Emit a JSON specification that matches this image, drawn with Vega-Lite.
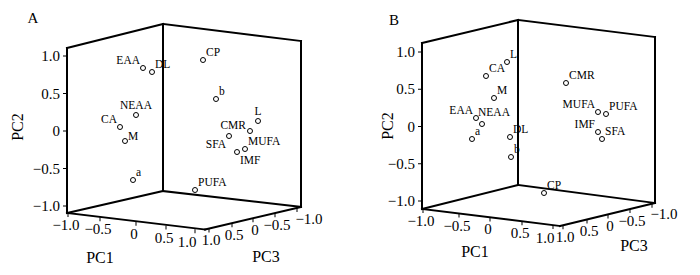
{
  "$schema": "https://vega.github.io/schema/vega-lite/v6.json",
  "autosize": {"type": "fit", "contains": "padding"},
  "width": 700,
  "height": 275,
  "padding": 0,
  "background": "white",
  "config": {"view": {"stroke": null}},
  "datasets": {
    "edges": [
      {"panel": "A", "h": 67, "v": 48, "h2": 163, "v2": 24},
      {"panel": "A", "h": 163, "v": 24, "h2": 301, "v2": 41},
      {"panel": "A", "h": 67, "v": 48, "h2": 67, "v2": 213},
      {"panel": "A", "h": 163, "v": 24, "h2": 163, "v2": 191},
      {"panel": "A", "h": 301, "v": 41, "h2": 301, "v2": 207},
      {"panel": "A", "h": 163, "v": 191, "h2": 67, "v2": 213},
      {"panel": "A", "h": 163, "v": 191, "h2": 301, "v2": 207},
      {"panel": "A", "h": 67, "v": 213, "h2": 205, "v2": 229.5},
      {"panel": "A", "h": 205, "v": 229.5, "h2": 301, "v2": 207},
      {"panel": "B", "h": 422, "v": 43, "h2": 518, "v2": 20},
      {"panel": "B", "h": 518, "v": 20, "h2": 655, "v2": 37},
      {"panel": "B", "h": 422, "v": 43, "h2": 422, "v2": 209},
      {"panel": "B", "h": 518, "v": 20, "h2": 518, "v2": 185},
      {"panel": "B", "h": 655, "v": 37, "h2": 655, "v2": 203},
      {"panel": "B", "h": 518, "v": 185, "h2": 422, "v2": 209},
      {"panel": "B", "h": 518, "v": 185, "h2": 655, "v2": 203},
      {"panel": "B", "h": 422, "v": 209, "h2": 560, "v2": 226},
      {"panel": "B", "h": 560, "v": 226, "h2": 655, "v2": 203}
    ],
    "pts": [
      {"panel": "A", "name": "CP", "h": 203, "v": 60, "pos": "ne"},
      {"panel": "A", "name": "EAA", "h": 143, "v": 68, "pos": "nw"},
      {"panel": "A", "name": "DL", "h": 152, "v": 72, "pos": "ne"},
      {"panel": "A", "name": "b", "h": 216, "v": 99, "pos": "ne"},
      {"panel": "A", "name": "NEAA", "h": 136, "v": 115, "pos": "n"},
      {"panel": "A", "name": "CA", "h": 120, "v": 127, "pos": "nw"},
      {"panel": "A", "name": "M", "h": 125, "v": 141, "pos": "e"},
      {"panel": "A", "name": "a", "h": 133, "v": 180, "pos": "ne"},
      {"panel": "A", "name": "L", "h": 258, "v": 121, "pos": "n"},
      {"panel": "A", "name": "CMR", "h": 250, "v": 131, "pos": "w"},
      {"panel": "A", "name": "SFA", "h": 229, "v": 136, "pos": "sw"},
      {"panel": "A", "name": "IMF", "h": 237, "v": 152, "pos": "se"},
      {"panel": "A", "name": "MUFA", "h": 245, "v": 149, "pos": "ne"},
      {"panel": "A", "name": "PUFA", "h": 195, "v": 190, "pos": "ne"},
      {"panel": "B", "name": "L", "h": 507, "v": 62, "pos": "ne"},
      {"panel": "B", "name": "CA", "h": 486, "v": 76, "pos": "ne"},
      {"panel": "B", "name": "CMR", "h": 566, "v": 83, "pos": "ne"},
      {"panel": "B", "name": "M", "h": 494, "v": 98, "pos": "ne"},
      {"panel": "B", "name": "MUFA", "h": 598, "v": 112, "pos": "nw"},
      {"panel": "B", "name": "PUFA", "h": 606, "v": 114, "pos": "ne"},
      {"panel": "B", "name": "EAA", "h": 476, "v": 118, "pos": "nw"},
      {"panel": "B", "name": "NEAA", "h": 482, "v": 124, "pos": "nne"},
      {"panel": "B", "name": "IMF", "h": 598, "v": 132, "pos": "nw"},
      {"panel": "B", "name": "SFA", "h": 602, "v": 139, "pos": "ne"},
      {"panel": "B", "name": "DL", "h": 510, "v": 137, "pos": "ne"},
      {"panel": "B", "name": "a", "h": 472, "v": 139, "pos": "ne"},
      {"panel": "B", "name": "b", "h": 511, "v": 157, "pos": "ne"},
      {"panel": "B", "name": "CP", "h": 544, "v": 193, "pos": "ne"}
    ],
    "yt": [
      {"panel": "A", "label": "1.0", "h": 65, "v": 56},
      {"panel": "A", "label": "0.5", "h": 65, "v": 93.5},
      {"panel": "A", "label": "0", "h": 65, "v": 131},
      {"panel": "A", "label": "−0.5", "h": 65, "v": 168.5},
      {"panel": "A", "label": "−1.0", "h": 65, "v": 206},
      {"panel": "B", "label": "1.0", "h": 420, "v": 52},
      {"panel": "B", "label": "0.5", "h": 420, "v": 89.25},
      {"panel": "B", "label": "0", "h": 420, "v": 126.5},
      {"panel": "B", "label": "−0.5", "h": 420, "v": 163.75},
      {"panel": "B", "label": "−1.0", "h": 420, "v": 201}
    ],
    "ft": [
      {"panel": "A", "axis": "PC1", "label": "−1.0", "h": 68, "v": 213.1},
      {"panel": "A", "axis": "PC1", "label": "−0.5", "h": 100, "v": 217.2},
      {"panel": "A", "axis": "PC1", "label": "0", "h": 136, "v": 221.8},
      {"panel": "A", "axis": "PC1", "label": "0.5", "h": 166, "v": 225.6},
      {"panel": "A", "axis": "PC1", "label": "1.0", "h": 195, "v": 229.3},
      {"panel": "A", "axis": "PC3", "label": "1.0", "h": 209, "v": 228.6},
      {"panel": "A", "axis": "PC3", "label": "0.5", "h": 232, "v": 223.2},
      {"panel": "A", "axis": "PC3", "label": "0", "h": 253, "v": 218.3},
      {"panel": "A", "axis": "PC3", "label": "−0.5", "h": 275, "v": 213.2},
      {"panel": "A", "axis": "PC3", "label": "−1.0", "h": 297, "v": 208.0},
      {"panel": "B", "axis": "PC1", "label": "−1.0", "h": 423, "v": 209.1},
      {"panel": "B", "axis": "PC1", "label": "−0.5", "h": 459, "v": 213.5},
      {"panel": "B", "axis": "PC1", "label": "0", "h": 490, "v": 217.4},
      {"panel": "B", "axis": "PC1", "label": "0.5", "h": 522, "v": 221.3},
      {"panel": "B", "axis": "PC1", "label": "1.0", "h": 553, "v": 225.1},
      {"panel": "B", "axis": "PC3", "label": "1.0", "h": 563, "v": 225.3},
      {"panel": "B", "axis": "PC3", "label": "0.5", "h": 587, "v": 219.5},
      {"panel": "B", "axis": "PC3", "label": "0", "h": 608, "v": 214.4},
      {"panel": "B", "axis": "PC3", "label": "−0.5", "h": 630, "v": 209.1},
      {"panel": "B", "axis": "PC3", "label": "−1.0", "h": 652, "v": 203.7}
    ],
    "tt": [
      {"kind": "axis", "text": "PC1", "h": 100, "v": 258},
      {"kind": "axis", "text": "PC3", "h": 266, "v": 257},
      {"kind": "axis", "text": "PC1", "h": 475, "v": 252},
      {"kind": "axis", "text": "PC3", "h": 634, "v": 246},
      {"kind": "rot", "text": "PC2", "h": 18, "v": 127},
      {"kind": "rot", "text": "PC2", "h": 388, "v": 126},
      {"kind": "panel", "text": "A", "h": 33, "v": 18},
      {"kind": "panel", "text": "B", "h": 394, "v": 20}
    ]
  },
  "encoding": {
    "x": {"field": "h", "type": "quantitative", "scale": {"domain": [0, 700], "nice": false, "zero": false}, "axis": null},
    "y": {"field": "v", "type": "quantitative", "scale": {"domain": [0, 275], "nice": false, "zero": false, "reverse": true}, "axis": null}
  },
  "layer": [
    {
      "data": {"name": "edges"},
      "mark": {"type": "rule", "color": "black", "strokeWidth": 2, "strokeCap": "square"},
      "encoding": {"x2": {"field": "h2"}, "y2": {"field": "v2"}}
    },
    {
      "data": {"name": "yt"},
      "mark": {"type": "tick", "orient": "horizontal", "size": 4, "thickness": 1, "color": "black", "opacity": 1}
    },
    {
      "data": {"name": "yt"},
      "mark": {"type": "text", "align": "right", "baseline": "middle", "dx": -5, "font": "Liberation Serif", "fontSize": 15, "color": "black"},
      "encoding": {"text": {"field": "label"}}
    },
    {
      "data": {"name": "ft"},
      "mark": {"type": "tick", "orient": "vertical", "size": 4, "thickness": 1, "yOffset": 2, "color": "black", "opacity": 1}
    },
    {
      "data": {"name": "ft"},
      "transform": [{"filter": "datum.axis === 'PC1' && datum.label !== '1.0'"}],
      "mark": {"type": "text", "align": "center", "baseline": "middle", "dx": -2, "dy": 12, "font": "Liberation Serif", "fontSize": 15, "color": "black"},
      "encoding": {"text": {"field": "label"}}
    },
    {
      "data": {"name": "ft"},
      "transform": [{"filter": "datum.axis === 'PC1' && datum.label === '1.0'"}],
      "mark": {"type": "text", "align": "center", "baseline": "middle", "dx": -8, "dy": 12.5, "font": "Liberation Serif", "fontSize": 15, "color": "black"},
      "encoding": {"text": {"field": "label"}}
    },
    {
      "data": {"name": "ft"},
      "transform": [{"filter": "datum.axis === 'PC3' && datum.label !== '−1.0'"}],
      "mark": {"type": "text", "align": "center", "baseline": "middle", "dx": 2, "dy": 11.5, "font": "Liberation Serif", "fontSize": 15, "color": "black"},
      "encoding": {"text": {"field": "label"}}
    },
    {
      "data": {"name": "ft"},
      "transform": [{"filter": "datum.axis === 'PC3' && datum.label === '−1.0'"}],
      "mark": {"type": "text", "align": "center", "baseline": "middle", "dx": 12, "dy": 10.5, "font": "Liberation Serif", "fontSize": 15, "color": "black"},
      "encoding": {"text": {"field": "label"}}
    },
    {
      "data": {"name": "pts"},
      "mark": {"type": "point", "shape": "circle", "filled": false, "stroke": "black", "strokeWidth": 1, "size": 25, "opacity": 1}
    },
    {
      "data": {"name": "pts"},
      "transform": [{"filter": "datum.pos === 'ne'"}],
      "mark": {"type": "text", "align": "left", "baseline": "middle", "dx": 3, "dy": -7, "font": "Liberation Serif", "fontSize": 11.5, "color": "black"},
      "encoding": {"text": {"field": "name"}}
    },
    {
      "data": {"name": "pts"},
      "transform": [{"filter": "datum.pos === 'nw'"}],
      "mark": {"type": "text", "align": "right", "baseline": "middle", "dx": -3, "dy": -7, "font": "Liberation Serif", "fontSize": 11.5, "color": "black"},
      "encoding": {"text": {"field": "name"}}
    },
    {
      "data": {"name": "pts"},
      "transform": [{"filter": "datum.pos === 'n'"}],
      "mark": {"type": "text", "align": "center", "baseline": "middle", "dx": 0, "dy": -9, "font": "Liberation Serif", "fontSize": 11.5, "color": "black"},
      "encoding": {"text": {"field": "name"}}
    },
    {
      "data": {"name": "pts"},
      "transform": [{"filter": "datum.pos === 'nne'"}],
      "mark": {"type": "text", "align": "left", "baseline": "middle", "dx": -4, "dy": -11, "font": "Liberation Serif", "fontSize": 11.5, "color": "black"},
      "encoding": {"text": {"field": "name"}}
    },
    {
      "data": {"name": "pts"},
      "transform": [{"filter": "datum.pos === 'e'"}],
      "mark": {"type": "text", "align": "left", "baseline": "middle", "dx": 3, "dy": -4, "font": "Liberation Serif", "fontSize": 11.5, "color": "black"},
      "encoding": {"text": {"field": "name"}}
    },
    {
      "data": {"name": "pts"},
      "transform": [{"filter": "datum.pos === 'w'"}],
      "mark": {"type": "text", "align": "right", "baseline": "middle", "dx": -4, "dy": -5, "font": "Liberation Serif", "fontSize": 11.5, "color": "black"},
      "encoding": {"text": {"field": "name"}}
    },
    {
      "data": {"name": "pts"},
      "transform": [{"filter": "datum.pos === 'sw'"}],
      "mark": {"type": "text", "align": "right", "baseline": "middle", "dx": -3, "dy": 9, "font": "Liberation Serif", "fontSize": 11.5, "color": "black"},
      "encoding": {"text": {"field": "name"}}
    },
    {
      "data": {"name": "pts"},
      "transform": [{"filter": "datum.pos === 'se'"}],
      "mark": {"type": "text", "align": "left", "baseline": "middle", "dx": 3, "dy": 9, "font": "Liberation Serif", "fontSize": 11.5, "color": "black"},
      "encoding": {"text": {"field": "name"}}
    },
    {
      "data": {"name": "tt"},
      "transform": [{"filter": "datum.kind === 'axis'"}],
      "mark": {"type": "text", "align": "center", "baseline": "middle", "font": "Liberation Serif", "fontSize": 16, "color": "black"},
      "encoding": {"text": {"field": "text"}}
    },
    {
      "data": {"name": "tt"},
      "transform": [{"filter": "datum.kind === 'rot'"}],
      "mark": {"type": "text", "align": "center", "baseline": "middle", "angle": 270, "font": "Liberation Serif", "fontSize": 16, "color": "black"},
      "encoding": {"text": {"field": "text"}}
    },
    {
      "data": {"name": "tt"},
      "transform": [{"filter": "datum.kind === 'panel'"}],
      "mark": {"type": "text", "align": "center", "baseline": "middle", "font": "Liberation Serif", "fontSize": 15, "color": "black"},
      "encoding": {"text": {"field": "text"}}
    }
  ]
}
